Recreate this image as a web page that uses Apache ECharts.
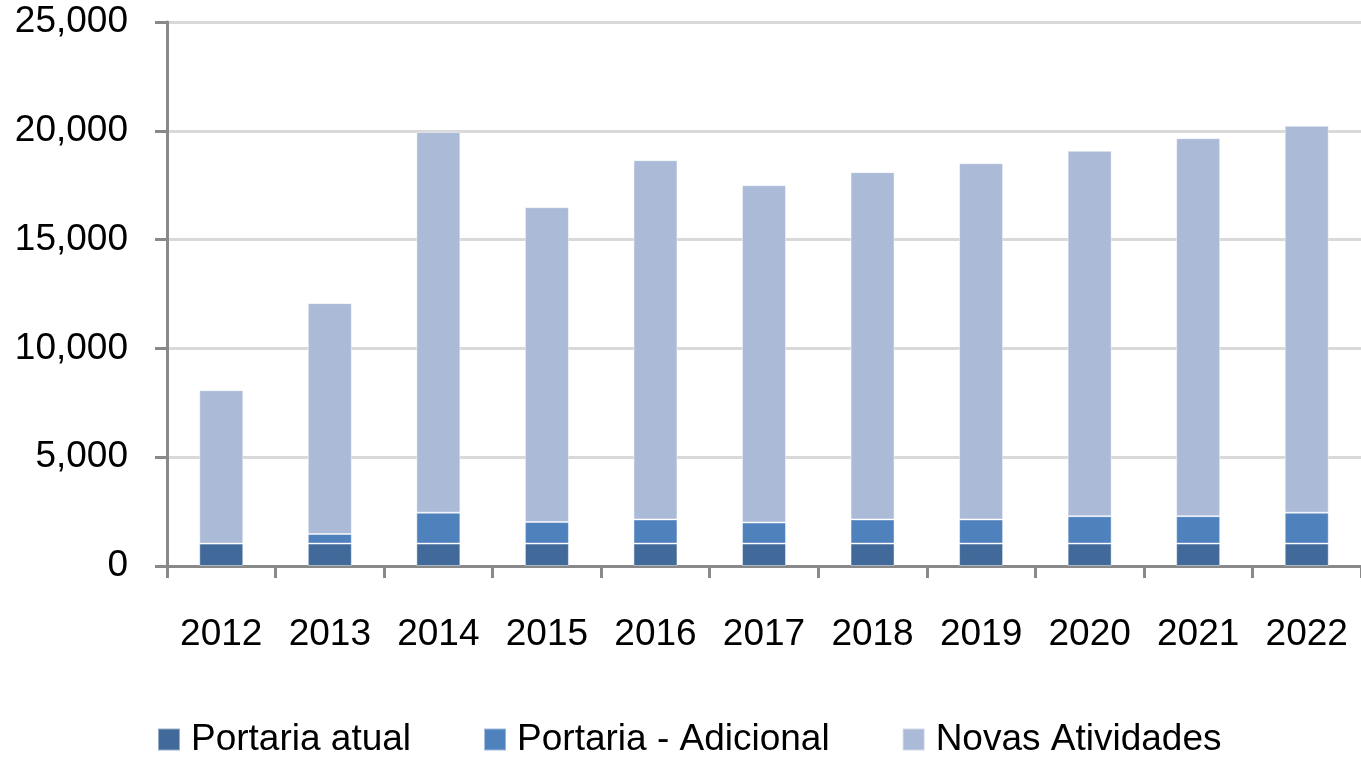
<!DOCTYPE html>
<html>
<head>
<meta charset="utf-8">
<script src="https://cdn.jsdelivr.net/npm/echarts@6/dist/echarts.min.js"></script>
<style>
  html, body { margin: 0; padding: 0; background: #fff; }
  #chart { width: 1361px; height: 757px; }
</style>
</head>
<body>
<div id="chart"></div>
<script>
const years = ['2012', '2013', '2014', '2015', '2016', '2017', '2018', '2019', '2020', '2021', '2022'];
const portariaAtual = [1030, 1030, 1030, 1030, 1030, 1030, 1030, 1030, 1030, 1030, 1030];
const portariaAdicional = [0, 440, 1420, 990, 1110, 970, 1110, 1110, 1260, 1260, 1420];
const novasAtividades = [7050, 10610, 17490, 14470, 16510, 15500, 15960, 16370, 16790, 17370, 17780];

const chart = echarts.init(document.getElementById('chart'));
const font = 'Liberation Sans, Arial, sans-serif';
const axisGrey = '#898989';

const bar = (name, data, color) => ({
  name: name,
  type: 'bar',
  stack: 'total',
  barWidth: 44,
  data: data,
  itemStyle: { color: color, borderColor: 'rgba(255,255,255,0.45)', borderWidth: 1 },
});

chart.setOption({
  animation: false,
  textStyle: { fontFamily: font },
  grid: { left: 167, right: 0, top: 22, bottom: 191 },
  legend: {
    left: 157,
    top: 721,
    padding: 0,
    itemWidth: 22,
    itemHeight: 22,
    itemGap: 72,
    icon: 'rect',
    textStyle: { fontSize: 37, color: '#000', fontFamily: font, padding: [0, 0, 0, 6] },
    data: ['Portaria atual', 'Portaria - Adicional', 'Novas Atividades'],
  },
  xAxis: {
    type: 'category',
    data: years,
    axisLine: { lineStyle: { color: axisGrey, width: 3 } },
    axisTick: { show: true, length: 12, lineStyle: { color: axisGrey, width: 3 } },
    axisLabel: { fontSize: 37, color: '#000', margin: 50, fontFamily: font },
  },
  yAxis: {
    type: 'value',
    min: 0,
    max: 25000,
    interval: 5000,
    axisLine: { show: true, lineStyle: { color: axisGrey, width: 3 } },
    axisTick: { show: true, length: 12, lineStyle: { color: axisGrey, width: 3 } },
    axisLabel: {
      fontSize: 37,
      color: '#000',
      margin: 39,
      fontFamily: font,
      formatter: (v) => v.toLocaleString('en-US'),
    },
    splitLine: { lineStyle: { color: '#d9d9d9', width: 3 } },
  },
  series: [
    bar('Portaria atual', portariaAtual, '#416a9b'),
    bar('Portaria - Adicional', portariaAdicional, '#4f81bd'),
    bar('Novas Atividades', novasAtividades, '#aabad7'),
  ],
});
</script>
</body>
</html>
